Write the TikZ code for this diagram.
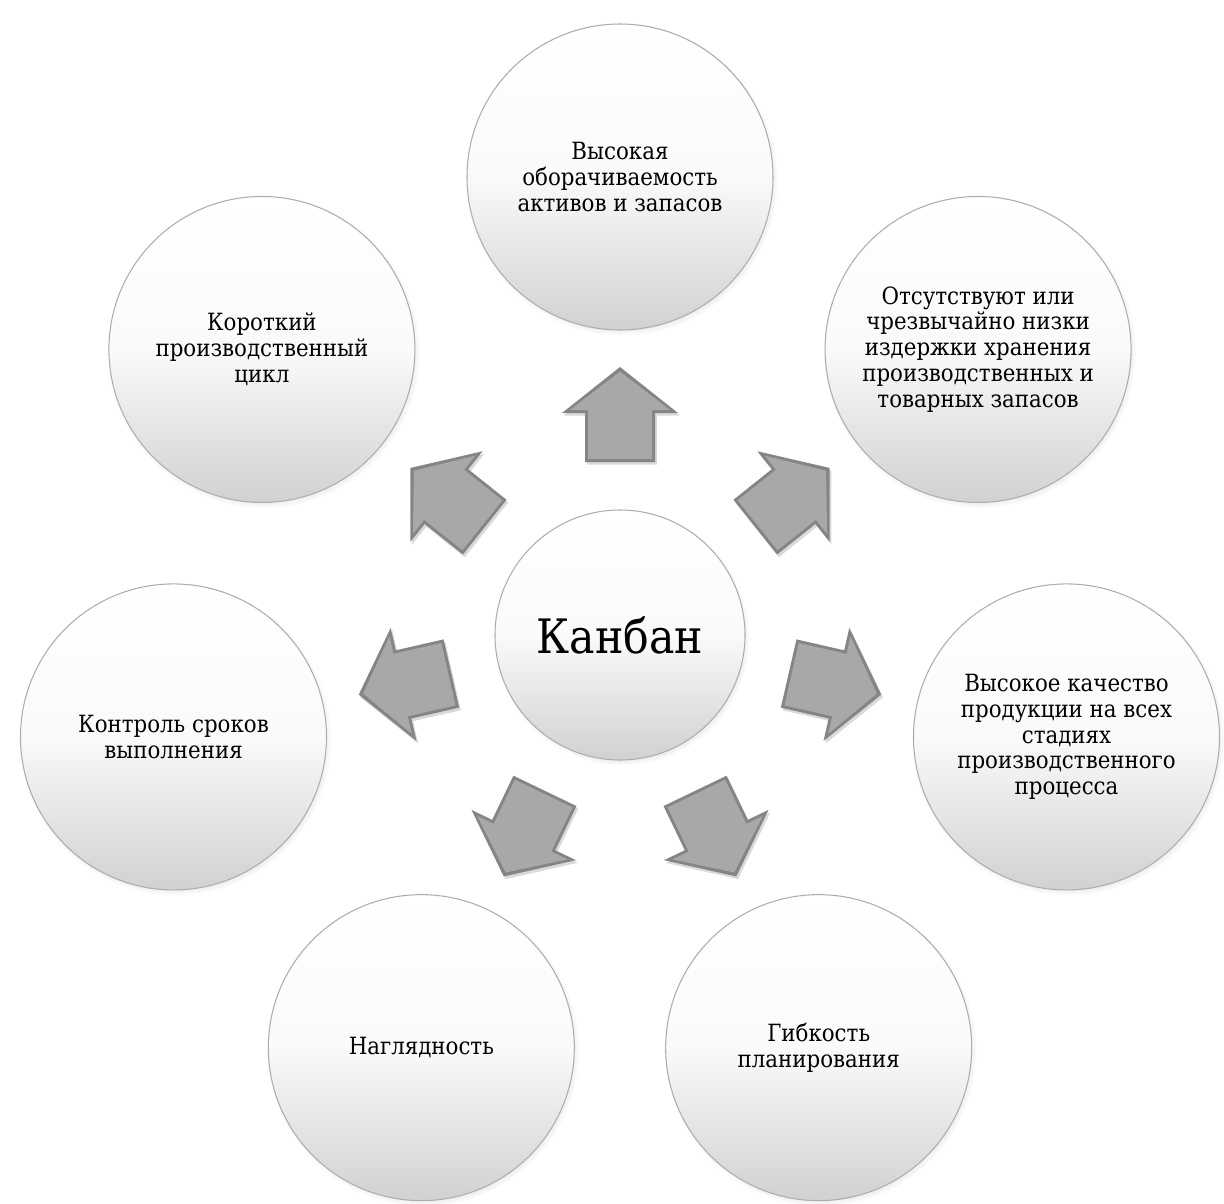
\documentclass[tikz,border=0pt]{standalone}
\usepackage{fontspec}
\setmainfont{DejaVu Serif Condensed}
\usetikzlibrary{shadows}

\tikzset{
  hub/.style={circle, minimum size=5cm, inner sep=0pt, align=center,
    top color=white, bottom color=black!18, middle color=black!2,
    draw=black!32, line width=0.6pt,
    circular drop shadow={shadow scale=1.02, shadow xshift=1pt, shadow yshift=-1.5pt, opacity=0.45},
    font=\fontsize{27}{32}\selectfont},
  leaf/.style={hub, minimum size=6.12cm, font=\fontsize{13.5}{14.7}\selectfont},
  fatarrow/.pic={
    \fill[black!48, drop shadow={shadow xshift=1pt, shadow yshift=-1.5pt, opacity=0.3}]
      (3.46,-.7) -- (4.44,-.7) -- (4.44,-1.16) -- (5.36,0) -- (4.44,1.16) -- (4.44,.7) -- (3.46,.7) -- cycle;
    \fill[black!34]
      (3.52,-.64) -- (4.50,-.64) -- (4.50,-1.0) -- (5.27,0) -- (4.50,1.0) -- (4.50,.64) -- (3.52,.64) -- cycle;
  }
}

\begin{document}
\begin{tikzpicture}
\useasboundingbox (-12.4,-11.36) rectangle (12.08,12.7);
% arrows
\pic[rotate=90] {fatarrow};
\pic[rotate=38.57] {fatarrow};
\pic[rotate=-12.86] {fatarrow};
\pic[rotate=-64.29] {fatarrow};
\pic[rotate=-115.71] {fatarrow};
\pic[rotate=-167.14] {fatarrow};
\pic[rotate=141.43] {fatarrow};
% circles
\node[hub] (kanban) at (0,0) {Канбан};
\node[leaf] (turnover) at (90:9.16) {Высокая\\оборачиваемость\\активов и запасов};
\node[leaf] (storage) at (38.57:9.16) {Отсутствуют или\\чрезвычайно низки\\издержки хранения\\производственных и\\товарных запасов};
\node[leaf] (quality) at (-12.86:9.16) {Высокое качество\\продукции на всех\\стадиях\\производственного\\процесса};
\node[leaf] (flexibility) at (-64.29:9.16) {Гибкость\\планирования};
\node[leaf] (visibility) at (-115.71:9.16) {Наглядность};
\node[leaf] (deadlines) at (-167.14:9.16) {Контроль сроков\\выполнения};
\node[leaf] (cycle) at (141.43:9.16) {Короткий\\производственный\\цикл};
\end{tikzpicture}
\end{document}
